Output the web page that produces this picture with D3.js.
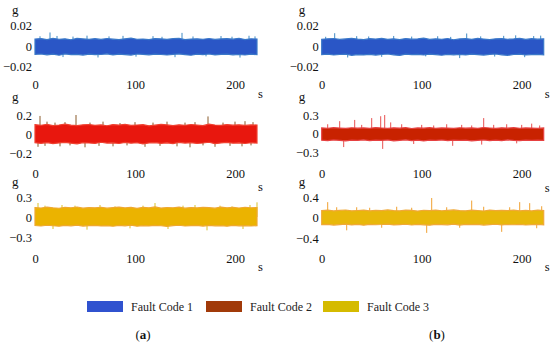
<!DOCTYPE html>
<html><head><meta charset="utf-8">
<script src="https://cdn.jsdelivr.net/npm/d3@7/dist/d3.min.js"></script>
<style>html,body{margin:0;padding:0;background:#fff}svg{display:block}</style>
</head><body>
<svg id="chart" width="550" height="345"></svg>
<script>
// ---------- data ----------
const seriesNames = ["Fault Code 1", "Fault Code 2", "Fault Code 3"];
const xTicks = [0, 100, 200];
const T = [0,6,12,18,24,30,36,42,48,54,60,66,72,78,84,90,96,102,108,114,120,126,132,138,144,150,156,162,168,174,180,186,192,198,204,210,216,222];

const up1a = [0.0068,0.0072,0.0063,0.0075,0.0066,0.0070,0.0061,0.0074,0.0069,0.0065,0.0071,0.0064,0.0073,0.0067,0.0062,0.0070,0.0076,0.0066,0.0068,0.0063,0.0072,0.0069,0.0065,0.0071,0.0074,0.0062,0.0068,0.0070,0.0066,0.0073,0.0064,0.0069,0.0071,0.0067,0.0075,0.0063,0.0070,0.0068];
const lo1a = [-0.0082,-0.0078,-0.0086,-0.0080,-0.0090,-0.0077,-0.0084,-0.0081,-0.0088,-0.0079,-0.0085,-0.0083,-0.0076,-0.0087,-0.0080,-0.0084,-0.0089,-0.0078,-0.0082,-0.0086,-0.0079,-0.0083,-0.0088,-0.0081,-0.0077,-0.0085,-0.0090,-0.0080,-0.0084,-0.0078,-0.0087,-0.0082,-0.0079,-0.0086,-0.0083,-0.0088,-0.0080,-0.0084];
const sp1a = [[5,0.0095],[15,0.0132],[22,0.0098],[28,-0.0108],[38,0.0092],[52,0.0101],[63,-0.0112],[74,0.0094],[88,0.0099],[101,-0.0104],[118,0.0096],[127,0.0090],[140,-0.0109],[147,0.0128],[158,0.0093],[171,-0.0101],[186,0.0097],[197,0.0091],[205,-0.0113],[214,0.0100],[220,0.0094]];

const up1b = [0.0066,0.0070,0.0073,0.0064,0.0069,0.0075,0.0067,0.0062,0.0071,0.0068,0.0074,0.0065,0.0070,0.0063,0.0072,0.0067,0.0069,0.0076,0.0064,0.0070,0.0066,0.0073,0.0061,0.0069,0.0071,0.0065,0.0074,0.0068,0.0063,0.0070,0.0072,0.0066,0.0069,0.0075,0.0064,0.0071,0.0067,0.0070];
const lo1b = [-0.0085,-0.0080,-0.0088,-0.0083,-0.0079,-0.0091,-0.0084,-0.0087,-0.0081,-0.0089,-0.0083,-0.0078,-0.0086,-0.0092,-0.0080,-0.0085,-0.0082,-0.0088,-0.0079,-0.0084,-0.0090,-0.0081,-0.0086,-0.0083,-0.0087,-0.0080,-0.0085,-0.0089,-0.0082,-0.0078,-0.0086,-0.0091,-0.0083,-0.0080,-0.0088,-0.0084,-0.0081,-0.0086];
const sp1b = [[4,0.0090],[13,0.0125],[26,-0.0112],[35,0.0096],[47,0.0093],[60,-0.0106],[72,0.0098],[90,0.0092],[104,-0.0101],[116,0.0095],[129,0.0089],[138,-0.0118],[145,0.0122],[159,0.0094],[173,-0.0103],[182,0.0099],[194,0.0104],[203,-0.0109],[212,0.0097],[219,0.0101]];

const up2a = [0.098,0.092,0.101,0.089,0.095,0.104,0.093,0.088,0.097,0.100,0.091,0.096,0.087,0.099,0.094,0.102,0.090,0.095,0.098,0.086,0.093,0.101,0.096,0.089,0.097,0.092,0.100,0.094,0.088,0.103,0.095,0.091,0.099,0.093,0.097,0.090,0.096,0.094];
const lo2a = [-0.092,-0.098,-0.090,-0.101,-0.094,-0.088,-0.097,-0.103,-0.091,-0.095,-0.099,-0.087,-0.096,-0.093,-0.100,-0.089,-0.097,-0.092,-0.104,-0.094,-0.090,-0.098,-0.093,-0.101,-0.088,-0.096,-0.091,-0.099,-0.095,-0.087,-0.102,-0.094,-0.089,-0.097,-0.093,-0.100,-0.092,-0.096];
const sp2a = [[5,0.19],[12,0.13],[20,0.12],[30,0.125],[41,0.20],[55,0.12],[68,0.13],[85,0.115],[100,0.125],[118,0.12],[132,0.13],[150,0.12],[160,0.125],[173,0.185],[188,0.12],[200,0.13],[210,0.135],[218,0.125],[3,-0.135],[10,-0.125],[25,-0.13],[35,-0.12],[50,-0.14],[64,-0.125],[78,-0.13],[92,-0.12],[110,-0.135],[125,-0.125],[142,-0.13],[155,-0.14],[168,-0.12],[180,-0.135],[195,-0.125],[207,-0.13],[216,-0.12]];

const up2b = [0.090,0.085,0.095,0.088,0.082,0.093,0.087,0.091,0.084,0.096,0.089,0.083,0.092,0.086,0.094,0.081,0.090,0.087,0.095,0.085,0.091,0.088,0.083,0.093,0.086,0.090,0.084,0.097,0.089,0.082,0.092,0.087,0.094,0.085,0.090,0.088,0.083,0.091];
const lo2b = [-0.108,-0.115,-0.104,-0.112,-0.119,-0.106,-0.111,-0.102,-0.117,-0.109,-0.113,-0.105,-0.118,-0.110,-0.103,-0.114,-0.108,-0.120,-0.107,-0.112,-0.104,-0.116,-0.109,-0.113,-0.106,-0.118,-0.110,-0.105,-0.114,-0.108,-0.117,-0.103,-0.111,-0.115,-0.107,-0.112,-0.109,-0.113];
const sp2b = [[6,0.15],[18,0.20],[22,-0.22],[33,0.22],[40,0.14],[50,0.25],[59,0.28],[61,-0.25],[63,0.30],[69,0.18],[80,0.15],[92,-0.17],[100,0.14],[112,0.13],[125,0.15],[131,-0.20],[140,0.14],[150,0.13],[160,-0.18],[162,0.25],[172,0.14],[185,0.15],[195,-0.16],[200,0.14],[210,0.16],[218,0.13]];

const up3a = [0.142,0.135,0.148,0.138,0.131,0.145,0.139,0.150,0.133,0.141,0.137,0.146,0.132,0.140,0.149,0.136,0.143,0.130,0.144,0.138,0.151,0.134,0.142,0.139,0.147,0.133,0.141,0.136,0.145,0.140,0.132,0.148,0.137,0.143,0.135,0.146,0.139,0.142];
const lo3a = [-0.128,-0.135,-0.124,-0.131,-0.138,-0.126,-0.133,-0.122,-0.136,-0.129,-0.125,-0.134,-0.130,-0.139,-0.127,-0.132,-0.123,-0.137,-0.128,-0.134,-0.126,-0.131,-0.140,-0.129,-0.124,-0.135,-0.130,-0.127,-0.136,-0.125,-0.133,-0.128,-0.138,-0.126,-0.132,-0.129,-0.135,-0.130];
const sp3a = [[3,0.21],[10,0.17],[18,-0.18],[27,0.18],[40,0.17],[52,-0.19],[65,0.18],[80,0.16],[95,-0.17],[108,0.17],[120,0.21],[133,-0.18],[148,0.17],[160,0.18],[172,-0.2],[185,0.17],[197,0.16],[208,-0.18],[215,0.18],[222,0.22]];

const up3b = [0.135,0.142,0.128,0.139,0.146,0.131,0.137,0.144,0.129,0.140,0.133,0.147,0.136,0.130,0.143,0.138,0.126,0.141,0.134,0.145,0.132,0.139,0.148,0.135,0.130,0.142,0.137,0.127,0.144,0.133,0.140,0.136,0.145,0.131,0.138,0.129,0.143,0.136];
const lo3b = [-0.140,-0.133,-0.147,-0.138,-0.131,-0.144,-0.136,-0.149,-0.134,-0.141,-0.137,-0.130,-0.145,-0.139,-0.132,-0.146,-0.135,-0.142,-0.150,-0.133,-0.138,-0.143,-0.131,-0.147,-0.136,-0.140,-0.134,-0.148,-0.139,-0.132,-0.145,-0.137,-0.141,-0.133,-0.146,-0.138,-0.135,-0.142];
const sp3b = [[6,0.30],[15,0.2],[25,-0.25],[35,0.2],[48,0.19],[60,-0.2],[75,0.21],[90,0.19],[105,-0.30],[110,0.38],[125,0.2],[138,-0.2],[150,0.33],[162,0.21],[180,-0.28],[188,0.2],[198,0.30],[208,0.28],[215,-0.21],[220,0.22]];

// ---------- layout / style ----------
const FONT = "'Liberation Serif','DejaVu Serif',serif";
const colX0 = [35, 321.7];
const panels = [
  {col:0, tickMax:0.02, yr:[66.5,25.5], xLabY:89, sY:94, gY:10, up:up1a, lo:lo1a, sp:sp1a, fill:"#2a56c6", edge:"#3a78c8", spike:"#3f8ac4"},
  {col:1, tickMax:0.02, yr:[66.5,25.5], xLabY:89, sY:94, gY:10, up:up1b, lo:lo1b, sp:sp1b, fill:"#2a56c6", edge:"#3a78c8", spike:"#3f8ac4"},
  {col:0, tickMax:0.2, yr:[153,115], xLabY:178, sY:187, gY:97, up:up2a, lo:lo2a, sp:sp2a, fill:"#e8170e", edge:"#f04030", spike:"#8a5a2a"},
  {col:1, tickMax:0.3, yr:[152,115], xLabY:178, sY:188, gY:97, up:up2b, lo:lo2b, sp:sp2b, fill:"#c82200", edge:"#e64040", spike:"#e85050"},
  {col:0, tickMax:0.3, yr:[237,197], xLabY:263, sY:267, gY:182, up:up3a, lo:lo3a, sp:sp3a, fill:"#ebb300", edge:"#efa830", spike:"#d9c22a"},
  {col:1, tickMax:0.4, yr:[238,197], xLabY:263, sY:267, gY:182, up:up3b, lo:lo3b, sp:sp3b, fill:"#e8b80a", edge:"#f0a838", spike:"#f0a030"}
];
const legendColors = ["#3052cf", "#a13a09", "#d5bb00"];

const svg = d3.select("#chart");
svg.append("rect").attr("width",550).attr("height",345).attr("fill","#fff");

const fmt = d => d === 0 ? "0" : (d < 0 ? "\u2212" : "") + Math.abs(d);

panels.forEach(p => {
  const x0 = colX0[p.col];
  const x = d3.scaleLinear().domain([0,200]).range([x0, x0+200]);
  const y = d3.scaleLinear().domain([-p.tickMax, p.tickMax]).range(p.yr);
  const g = svg.append("g");

  const pts = T.map((t,i) => ({t, u:p.up[i], l:p.lo[i]})).filter(d => d.u !== undefined && d.l !== undefined);

  // spikes
  g.selectAll("line.sp").data(p.sp).join("line")
    .attr("x1", d => x(d[0])).attr("x2", d => x(d[0]))
    .attr("y1", y(0)).attr("y2", d => y(d[1]))
    .attr("stroke", p.spike).attr("stroke-width", 1);

  // dense band
  const area = d3.area().x(d => x(d.t)).y0(d => y(d.l)).y1(d => y(d.u));
  g.append("path").datum(pts).attr("d", area)
    .attr("fill", p.fill).attr("stroke", p.edge).attr("stroke-width", 1.2).attr("stroke-linejoin","miter");

  // y axis
  const ya = d3.axisLeft(y).tickValues([-p.tickMax, 0, p.tickMax]).tickSize(0).tickPadding(0).tickFormat(fmt);
  const yg = svg.append("g").attr("transform", `translate(${x0-3},0)`).call(ya);
  yg.select(".domain").remove();
  yg.selectAll("text").attr("font-family", FONT).attr("font-size", 12.5).attr("fill", "#111");

  // x axis
  const xa = d3.axisBottom(x).tickValues(xTicks).tickSize(0).tickPadding(0).tickFormat(d3.format("d"));
  const xg = svg.append("g").attr("transform", `translate(0,${p.xLabY-9})`).call(xa);
  xg.select(".domain").remove();
  xg.selectAll("text").attr("font-family", FONT).attr("font-size", 12.5).attr("fill", "#111");

  // unit labels
  svg.append("text").attr("x", x0-23).attr("y", p.gY+4).text("g")
    .attr("font-family", FONT).attr("font-size", 13).attr("fill","#111");
  svg.append("text").attr("x", x0+223).attr("y", p.sY+4).text("s")
    .attr("font-family", FONT).attr("font-size", 12.5).attr("fill","#111");
});

// legend
const legX = [87, 206, 323];
seriesNames.forEach((name, i) => {
  svg.append("rect").attr("x", legX[i]).attr("y", 301).attr("width", 36).attr("height", 11).attr("fill", legendColors[i]);
  svg.append("text").attr("x", legX[i]+44).attr("y", 311).text(name)
    .attr("font-family", FONT).attr("font-size", 12).attr("fill","#222");
});

// panel captions
[["a",143],["b",437]].forEach(([c, cx]) => {
  const t = svg.append("text").attr("x", cx).attr("y", 339).attr("text-anchor","middle")
    .attr("font-family", FONT).attr("font-size", 13).attr("fill","#111");
  t.append("tspan").text("(");
  t.append("tspan").attr("font-weight","bold").text(c);
  t.append("tspan").text(")");
});
</script>
</body></html>
